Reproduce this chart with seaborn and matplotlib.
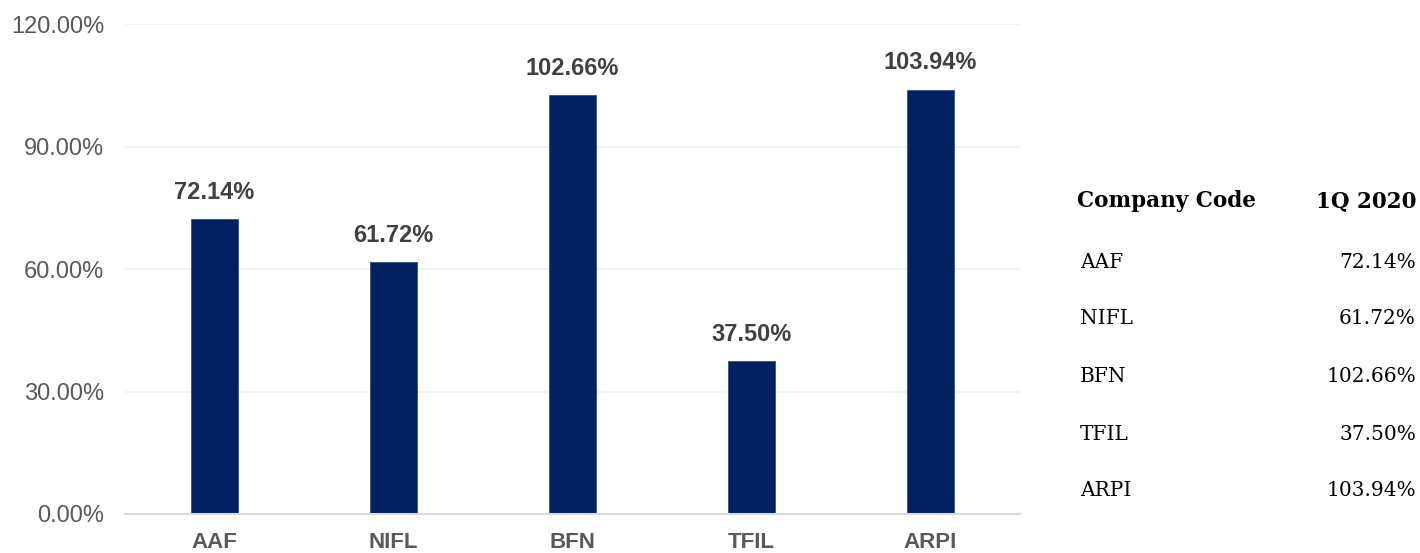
import matplotlib
matplotlib.use("Agg")
import matplotlib.pyplot as plt
import seaborn as sns
import pandas as pd
from matplotlib.ticker import FuncFormatter

companies = ["AAF", "NIFL", "BFN", "TFIL", "ARPI"]
ratio_1q2020 = [72.14, 61.72, 102.66, 37.50, 103.94]
y_ticks = [0, 30, 60, 90, 120]
table_header = ["Company Code", "1Q 2020"]

df = pd.DataFrame({"Company": companies, "Ratio": ratio_1q2020})

sns.set_theme(style="white")
plt.rcParams["font.family"] = ["Liberation Sans", "DejaVu Sans"]

fig = plt.figure(figsize=(14.2, 5.53), dpi=100)
ax = fig.add_axes([125 / 1420, 39 / 553, 895 / 1420, 490 / 553])

sns.barplot(data=df, x="Company", y="Ratio", color="#002060", width=0.257,
            saturation=1, ax=ax, edgecolor="#3A4F85", linewidth=0.6)

ax.set_ylim(0, 120)
ax.set_xlim(-0.5, len(companies) - 0.5)
ax.set_yticks(y_ticks)
ax.yaxis.set_major_formatter(FuncFormatter(lambda v, _: f"{v:.2f}%"))
ax.grid(axis="y", color="#F0F0F0", linewidth=1.2)
ax.set_axisbelow(True)
ax.set_xlabel("")
ax.set_ylabel("")

for side in ["top", "right", "left"]:
    ax.spines[side].set_visible(False)
ax.spines["bottom"].set_color("#D9D9D9")
ax.spines["bottom"].set_linewidth(1.5)

ax.tick_params(axis="y", length=0, pad=15, labelsize=17, labelcolor="#595959")
ax.tick_params(axis="x", length=0, pad=13, labelsize=16, labelcolor="#595959")
for lbl in ax.get_xticklabels():
    lbl.set_fontweight("bold")

for i, v in enumerate(ratio_1q2020):
    ax.annotate(f"{v:.2f}%", xy=(i, v), xytext=(0, 11), textcoords="offset points",
                ha="center", va="bottom", fontsize=17, fontweight="bold",
                color="#404040")

# Side table of values
serif = ["DejaVu Serif"]
row_y = [262, 319, 377, 434, 491]
fig.text(1077 / 1420, 1 - 201 / 553, table_header[0], ha="left", va="center",
         fontsize=15.5, fontweight="bold", color="black", family=serif)
fig.text(1416 / 1420, 1 - 201 / 553, table_header[1], ha="right", va="center",
         fontsize=15.5, fontweight="bold", color="black", family=serif)
for name, v, y in zip(companies, ratio_1q2020, row_y):
    fig.text(1080 / 1420, 1 - y / 553, name, ha="left", va="center",
             fontsize=14.5, color="black", family=serif)
    fig.text(1416 / 1420, 1 - y / 553, f"{v:.2f}%", ha="right", va="center",
             fontsize=14.5, color="black", family=serif)

fig.savefig("out.png", dpi=100)
